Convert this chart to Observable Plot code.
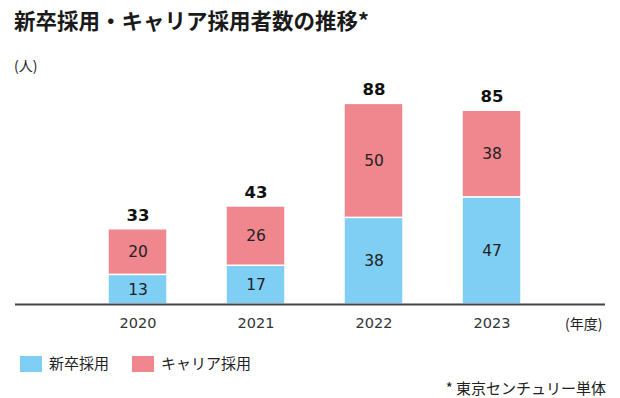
<!DOCTYPE html>
<html><head><meta charset="utf-8">
<script src="https://cdn.jsdelivr.net/npm/d3@7"></script>
<script src="https://cdn.jsdelivr.net/npm/@observablehq/plot@0.6"></script>
<style>
body{margin:0;background:#fff;font-family:"Noto Sans CJK JP","Noto Sans",sans-serif;color:#222;}
#wrap{position:relative;width:620px;height:398px;overflow:hidden;}
#wrap svg{position:absolute;left:0;top:0;}
.abs{position:absolute;white-space:nowrap;}
#title{left:14px;top:6px;font-size:21.5px;font-weight:bold;line-height:28px;color:#1a1a1a;}
#unit{left:14px;top:55px;font-size:14px;line-height:20px;}
#xunit{left:565px;top:313px;font-size:14px;line-height:20px;}
.sw{position:absolute;width:22px;height:16px;}
.lt{position:absolute;font-size:15px;line-height:20px;}
#note{right:14px;top:378px;font-size:15px;line-height:20px;}
</style></head>
<body><div id="wrap">
<div id="title" class="abs">新卒採用・キャリア採用者数の推移*</div>
<div id="unit" class="abs">(人)</div>
<div id="xunit" class="abs">(年度)</div>
<div id="legend"></div>
<div id="note" class="abs">* 東京センチュリー単体</div>
</div>
<script>
const years = ["2020", "2021", "2022", "2023"];
const seriesNames = ["新卒採用", "キャリア採用"];
const shinsotsu = [13, 17, 38, 47];
const career = [20, 26, 50, 38];
const totals = [33, 43, 88, 85];
const colors = ["#7fcef3", "#f0868e"];

const data = [];
years.forEach((y, i) => {
  data.push({year: y, series: seriesNames[0], value: shinsotsu[i]});
  data.push({year: y, series: seriesNames[1], value: career[i]});
});
const totalData = years.map((y, i) => ({year: y, total: totals[i]}));

const numFont = '"DejaVu Sans","Noto Sans CJK JP",sans-serif';
const chart = Plot.plot({
  width: 620,
  height: 345,
  marginLeft: 15,
  marginRight: 15,
  marginTop: 76,
  marginBottom: 41,
  style: {fontFamily: numFont, background: "transparent"},
  x: {domain: years, paddingInner: 0.5, paddingOuter: 0.75, align: 0.525, label: null},
  y: {domain: [0, 100], axis: null},
  color: {domain: seriesNames, range: colors},
  marks: [
    Plot.barY(data, {x: "year", y: "value", fill: "series", stroke: "white", strokeWidth: 1.5}),
    Plot.text(data, Plot.stackY({x: "year", y: "value", z: "series", text: d => String(d.value), fontSize: 15.5, fill: "#222"})),
    Plot.text(totalData, {x: "year", y: "total", text: d => String(d.total), dy: -14, fontSize: 16.5, fontWeight: "bold", fill: "#111"}),
    Plot.ruleY([0], {stroke: "#444", strokeWidth: 2}),
    Plot.axisX({tickSize: 0, tickPadding: 13, fontSize: 14.5, fill: "#333", label: null})
  ]
});
document.getElementById("wrap").prepend(chart);

const legend = document.getElementById("legend");
const lx = [20, 132];
seriesNames.forEach((name, i) => {
  const sw = document.createElement("div");
  sw.className = "sw";
  sw.style.left = lx[i] + "px";
  sw.style.top = "356px";
  sw.style.background = colors[i];
  legend.appendChild(sw);
  const t = document.createElement("div");
  t.className = "lt";
  t.style.left = (lx[i] + 29) + "px";
  t.style.top = "353px";
  t.textContent = name;
  legend.appendChild(t);
});
</script>
</body></html>
